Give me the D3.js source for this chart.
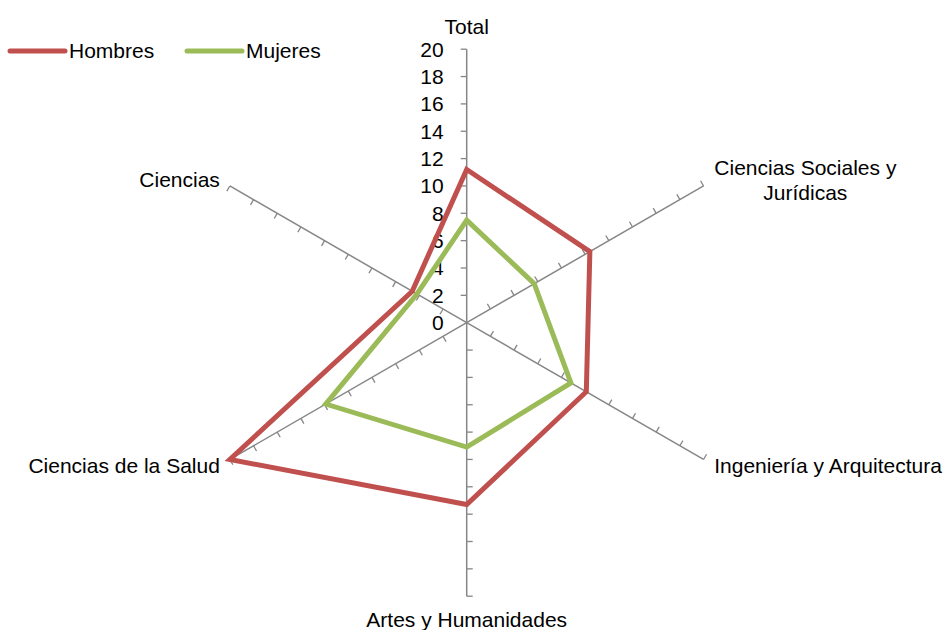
<!DOCTYPE html>
<html>
<head>
<meta charset="utf-8">
<script src="https://cdn.jsdelivr.net/npm/d3@7"></script>
<style>
  body { margin: 0; background: #fff; }
  text { font-family: "Liberation Sans", Arial, sans-serif; font-size: 21px; fill: #000; }
</style>
</head>
<body>
<svg id="chart" width="948" height="630"></svg>
<script>
// categories, clockwise from the top
var categories = ["Total", "Ciencias Sociales y\nJurídicas", "Ingeniería y Arquitectura",
                  "Artes y Humanidades", "Ciencias de la Salud", "Ciencias"];
var hombres = [11.2, 10.4, 10.1, 13.3, 20, 4.6];
var mujeres = [7.5, 5.7, 8.8, 9.1, 11.9, 4.2];
var seriesNames = ["Hombres", "Mujeres"];
var seriesColors = ["#C0504D", "#9BBB59"];
var tickValues = [0, 2, 4, 6, 8, 10, 12, 14, 16, 18, 20];

var svg = d3.select("#chart"),
    cx = 466.7,
    cy = 322.7,
    R = 273.5;

var r = d3.scaleLinear().domain([0, 20]).range([0, R]);
var angle = d3.scaleLinear().domain([0, categories.length]).range([0, 2 * Math.PI]);

function pt(i, v) {
    var a = angle(i);
    return [cx + r(v) * Math.sin(a), cy - r(v) * Math.cos(a)];
}

// axes with ticks
var axes = svg.append("g");
categories.forEach(function (c, i) {
    var a = angle(i);
    var end = pt(i, 20);
    axes.append("line")
        .attr("x1", cx).attr("y1", cy)
        .attr("x2", end[0]).attr("y2", end[1])
        .attr("stroke", "#868686").attr("stroke-width", 1.5);
    // tick offset: perpendicular, rotated with the axis
    var ox = -Math.cos(a) * 6, oy = -Math.sin(a) * 6;
    tickValues.slice(1).forEach(function (t) {
        var p = pt(i, t);
        axes.append("line")
            .attr("x1", p[0]).attr("y1", p[1])
            .attr("x2", p[0] + ox).attr("y2", p[1] + oy)
            .attr("stroke", "#868686").attr("stroke-width", 1.3);
    });

    // category label
    var s = Math.sin(a), co = Math.cos(a);
    var lines = c.split("\n");
    var lx, ly, anchor;
    if (Math.abs(s) < 0.01) {
        lx = end[0];
        ly = end[1] - 23 * co;
        anchor = "middle";
    } else {
        lx = end[0] + (s > 0 ? 10.5 : -10);
        ly = end[1] - 12 * co;
        anchor = s > 0 ? "start" : "end";
    }
    var label = svg.append("text")
        .attr("text-anchor", "middle");
    lines.forEach(function (l, k) {
        label.append("tspan")
            .attr("x", 0)
            .attr("y", (k - (lines.length - 1) / 2) * 25)
            .attr("dy", "0.35em")
            .text(l);
    });
    var w = label.node().getBBox().width;
    var shift = anchor === "start" ? w / 2 : anchor === "end" ? -w / 2 : 0;
    label.attr("transform", "translate(" + (lx + shift) + "," + ly + ")");
});

// value labels on the Total axis
svg.append("g").selectAll("text")
    .data(tickValues)
    .enter()
    .append("text")
    .attr("x", cx - 23)
    .attr("y", function (d) { return pt(0, d)[1]; })
    .attr("dy", "0.35em")
    .attr("text-anchor", "end")
    .text(function (d) { return d; });

// series
var line = d3.line().curve(d3.curveLinearClosed);
[hombres, mujeres].forEach(function (vals, k) {
    svg.append("path")
        .attr("d", line(vals.map(function (v, i) { return pt(i, v); })))
        .attr("fill", "none")
        .attr("stroke", seriesColors[k])
        .attr("stroke-width", 5)
        .attr("stroke-linejoin", "miter");
});

// legend
var legend = svg.append("g");
var legendX = [10, 187];
seriesNames.forEach(function (n, k) {
    legend.append("line")
        .attr("x1", legendX[k]).attr("x2", legendX[k] + 55)
        .attr("y1", 51).attr("y2", 51)
        .attr("stroke", seriesColors[k])
        .attr("stroke-width", 5)
        .attr("stroke-linecap", "round");
    legend.append("text")
        .attr("x", legendX[k] + 59)
        .attr("y", 51)
        .attr("dy", "0.35em")
        .text(n);
});
</script>
</body>
</html>
